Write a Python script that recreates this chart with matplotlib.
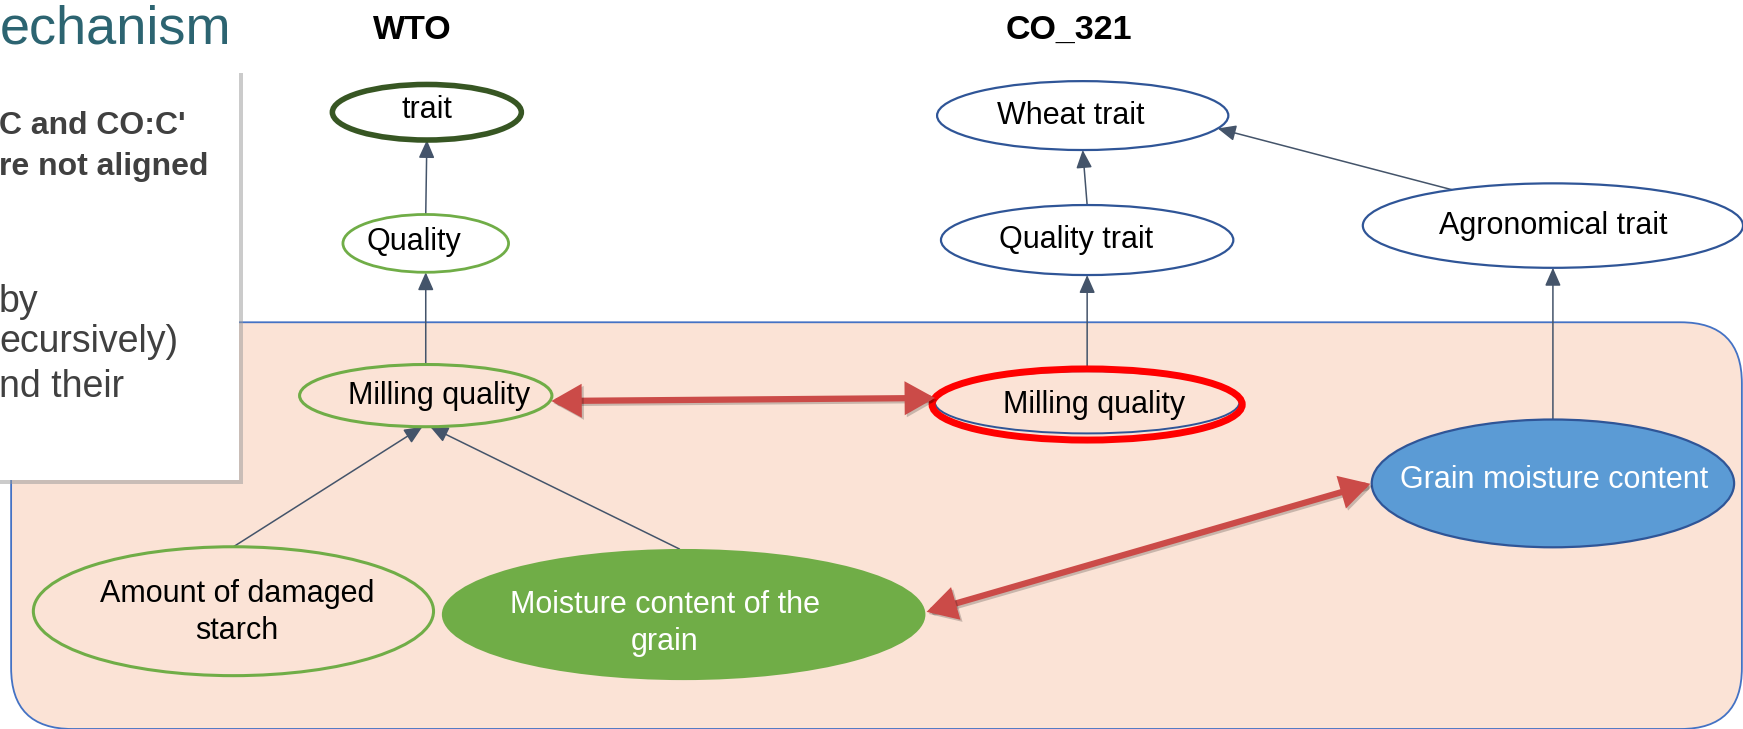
import numpy as np
import matplotlib
matplotlib.use("Agg")
import matplotlib.pyplot as plt
from matplotlib.patches import Ellipse, FancyBboxPatch, Rectangle, FancyArrowPatch
import matplotlib.patheffects as pe

plt.rcParams['font.family'] = ['Liberation Sans Narrow', 'Liberation Sans', 'DejaVu Sans']

# ---- diagram content ----
column_titles = ["WTO", "CO_321"]
node_labels = ["trait", "Quality", "Milling quality", "Amount of damaged\nstarch",
               "Moisture content of the\ngrain",
               "Wheat trait", "Quality trait", "Agronomical trait", "Milling quality",
               "Grain moisture content"]
# (child, parent) is_a / part_of links
links = [(1, 0), (2, 1), (3, 2), (4, 2), (6, 5), (7, 5), (9, 7), (8, 6)]
# cross-ontology mappings (red double arrows)
mappings = [(2, 8), (4, 9)]
box_bold = ["C and CO:C'", "re not aligned"]
box_plain = ["by", "ecursively)", "nd their"]
title_text = "echanism"

# ---- layout (reference pixel units, y down) ----
centers = [(384, 101), (383, 219), (383, 356), (210, 550), (615, 553),
           (974, 104), (978, 216), (1397, 203), (978, 362), (1397, 435)]
sizes = [(170, 50), (149, 52), (227, 56), (360, 116), (435, 118),
         (262, 62), (263, 63), (342, 76), (274, 56), (326, 115)]
GREEN, DKGREEN, BLUE, FILLBLUE = '#70AD47', '#375623', '#2F5597', '#5B9BD5'
edge_cols = [DKGREEN, GREEN, GREEN, GREEN, GREEN, BLUE, BLUE, BLUE, BLUE, BLUE]
edge_lws = [4, 2, 2.2, 2.2, 0, 1.6, 1.6, 1.6, 1.4, 1.6]
face_cols = ['white', 'white', 'none', 'none', GREEN, 'white', 'white', 'white', 'none', FILLBLUE]
text_cols = ['black'] * 4 + ['white'] + ['black'] * 4 + ['white']
text_pos = [(384, 99), (372, 218), (395, 356), (213, 551), (598, 561),
            (963, 104), (968, 216), (1397, 203), (984, 364), (1398, 432)]
link_angles = [(-90, 90), (-90, 90), (-90, 91.5), (-91, 88), (-90, 90),
               (-122, 22), (-90, 90), (-90, 90)]
map_angles = [(10, 188), (-2, 180)]

W, H = 1568, 656
fig = plt.figure(figsize=(17.43, 7.29), dpi=100)
ax = fig.add_axes([0, 0, 1, 1])
ax.set_xlim(0, W)
ax.set_ylim(H, 0)
ax.axis('off')


def anchor(i, deg):
    cx, cy = centers[i]
    w, h = sizes[i]
    t = np.deg2rad(deg)
    return cx + w / 2 * np.cos(t), cy + h / 2 * np.sin(t)


# salmon region
region = FancyBboxPatch((10, 290), 1557, 366, boxstyle="round,pad=0,rounding_size=55",
                        fc='#FBE3D6', ec='#4472C4', lw=1.3, zorder=1)
ax.add_patch(region)

# white text box with shadow
box = Rectangle((-20, 62), 235, 370, fc='white', ec='none', zorder=6,
                path_effects=[pe.SimplePatchShadow(offset=(3, -3), shadow_rgbFace='#999999', alpha=0.5),
                              pe.Normal()])
ax.add_patch(box)
for txt, y in zip(box_bold, [113, 150]):
    ax.text(-1, y, txt, ha='left', va='center', fontsize=23, fontweight='bold',
            color='#404040', zorder=7)
for txt, y in zip(box_plain, [272, 308, 348]):
    ax.text(-1, y, txt, ha='left', va='center', fontsize=27, color='#404040', zorder=7)

ax.text(0, 4, title_text, ha='left', va='top', fontsize=39, color='#2C6471', zorder=7)

# column titles
for txt, x in zip(column_titles, [371, 962]):
    ax.text(x, 27, txt, ha='center', va='center', fontsize=24.5, fontweight='bold', color='black')

# links
for (s, d), (a1, a2) in zip(links, link_angles):
    ax.annotate('', xy=anchor(d, a2), xytext=anchor(s, a1),
                arrowprops=dict(arrowstyle='-|>,head_length=0.5,head_width=0.22',
                                color='#44546A', lw=1.1,
                                mutation_scale=22, shrinkA=0, shrinkB=0), zorder=2)

# nodes
for i, lab in enumerate(node_labels):
    cx, cy = centers[i]
    w, h = sizes[i]
    if i == 8:
        ax.add_patch(Ellipse((cx, cy + 2), w + 5, h + 8, fc='none', ec='#FF0000', lw=5, zorder=4))
    ax.add_patch(Ellipse((cx, cy), w, h, fc=face_cols[i], ec=edge_cols[i],
                         lw=edge_lws[i], zorder=3))
    ax.text(*text_pos[i], lab, ha='center', va='center', fontsize=22, color=text_cols[i],
            linespacing=1.3, zorder=5)

# mapping arrows
for (s, d), (a1, a2) in zip(mappings, map_angles):
    arr = FancyArrowPatch(anchor(s, a1), anchor(d, a2),
                          arrowstyle='<|-|>,head_length=0.75,head_width=0.42',
                          mutation_scale=20, color='#CB4B48', lw=4.5,
                          shrinkA=1, shrinkB=1, joinstyle='miter', zorder=5,
                          path_effects=[pe.SimpleLineShadow(offset=(1.5, -1.5), alpha=0.2),
                                        pe.Normal()])
    ax.add_patch(arr)

fig.savefig('out.png', dpi=100)
